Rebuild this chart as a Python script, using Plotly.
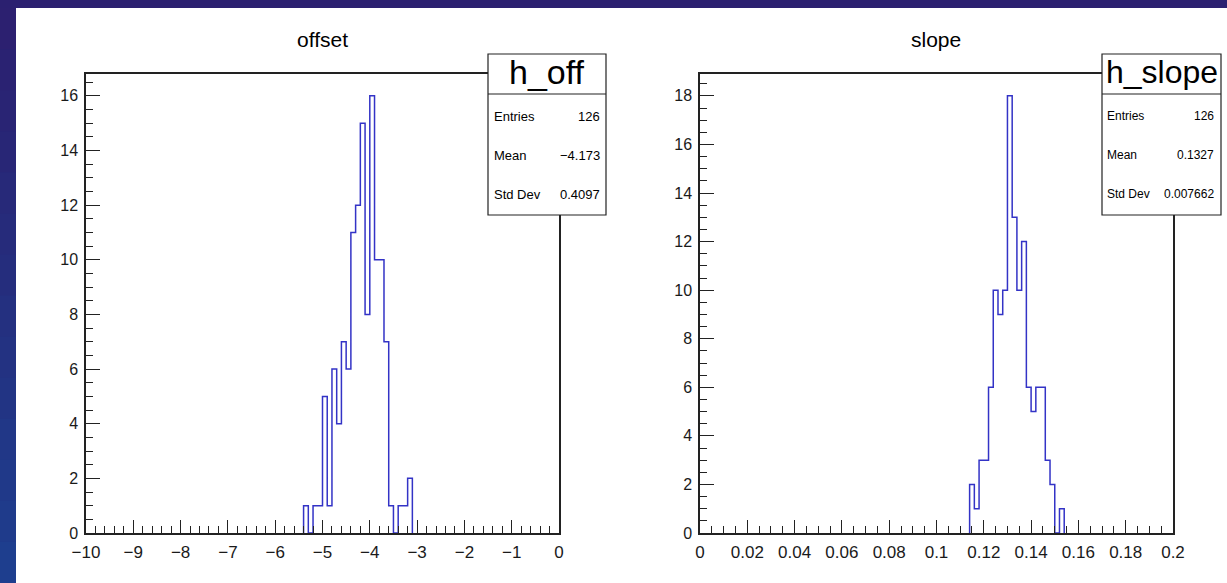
import plotly.graph_objects as go

# ---------------- data ----------------
off_title = "offset"
off_name = "h_off"
off_range = [-10.0, 0.0]
off_nbins = 100
off_first_bin_low = -5.4          # first occupied bin lower edge
off_counts = [1, 0, 1, 1, 5, 1, 6, 4, 7, 6, 11, 12, 15, 8, 16, 10, 10, 7, 1, 0, 1, 1, 2]
off_stats = [("Entries", "126"), ("Mean", "\u22124.173"), ("Std Dev", "0.4097")]

slope_title = "slope"
slope_name = "h_slope"
slope_range = [0.0, 0.2]
slope_nbins = 100
slope_first_bin_low = 0.114
slope_counts = [2, 1, 3, 3, 6, 10, 9, 10, 18, 13, 10, 12, 6, 5, 6, 6, 3, 2, 0, 1]
slope_stats = [("Entries", "126"), ("Mean", "0.1327"), ("Std Dev", "0.007662")]

W, H = 1227, 583
FONT = "Liberation Sans, Arial, Helvetica, sans-serif"
LINE_BLUE = "#3333c6"
AX = "#222222"


def step_outline(rng, nbins, first_low, counts):
    """ROOT-style histogram outline over the occupied bins."""
    width = (rng[1] - rng[0]) / nbins
    start = int(round((first_low - rng[0]) / width))
    edges = [rng[0] + (start + i) * width for i in range(len(counts) + 1)]
    xs, ys = [edges[0]], [0]
    for i, c in enumerate(counts):
        xs += [edges[i], edges[i + 1]]
        ys += [c, c]
    xs.append(edges[-1])
    ys.append(0)
    return xs, ys, max(counts)


def px(x):
    return x / W


def py(y):
    return 1 - y / H


fig = go.Figure()

ox, oy, omax = step_outline(off_range, off_nbins, off_first_bin_low, off_counts)
sx, sy, smax = step_outline(slope_range, slope_nbins, slope_first_bin_low, slope_counts)

fig.add_trace(go.Scatter(x=ox, y=oy, mode="lines", line=dict(color=LINE_BLUE, width=1.5),
                         xaxis="x", yaxis="y", showlegend=False, hoverinfo="skip"))
fig.add_trace(go.Scatter(x=sx, y=sy, mode="lines", line=dict(color=LINE_BLUE, width=1.5),
                         xaxis="x2", yaxis="y2", showlegend=False, hoverinfo="skip"))

ydom = [py(533), py(74)]
common_axis = dict(showgrid=False, zeroline=False, showline=True, mirror=True, automargin=False,
                   linecolor=AX, linewidth=1.5, ticks="inside", tickcolor=AX,
                   tickwidth=1.3, layer="above traces")
xfont = dict(family=FONT, size=17, color="#1a1a1a")
yfont = dict(family=FONT, size=16, color="#1a1a1a")

fig.update_layout(
    template="none",
    width=W, height=H,
    margin=dict(l=0, r=0, t=0, b=0, pad=0, autoexpand=False),
    paper_bgcolor="#2b2070",
    plot_bgcolor="white",
    showlegend=False,
    xaxis=dict(domain=[px(86), px(559)], range=off_range, dtick=1, tick0=0, ticklen=13, tickfont=xfont,
               minor=dict(dtick=0.2, tick0=0, ticks="inside", ticklen=7, tickcolor=AX, tickwidth=1.2),
               anchor="y", ticklabelstandoff=3, **common_axis),
    yaxis=dict(domain=ydom, range=[0, omax * 1.05], dtick=2, tick0=0, ticklen=14, tickfont=yfont,
               minor=dict(dtick=0.5, tick0=0, ticks="inside", ticklen=7, tickcolor=AX, tickwidth=1.2),
               anchor="x", ticklabelstandoff=3, **common_axis),
    xaxis2=dict(domain=[px(700), px(1173)], range=slope_range, dtick=0.02, tick0=0, ticklen=13, tickfont=xfont,
                minor=dict(dtick=0.005, tick0=0, ticks="inside", ticklen=7, tickcolor=AX, tickwidth=1.2),
                anchor="y2", ticklabelstandoff=3, **common_axis),
    yaxis2=dict(domain=ydom, range=[0, smax * 1.05], dtick=2, tick0=0, ticklen=14, tickfont=yfont,
                minor=dict(dtick=0.5, tick0=0, ticks="inside", ticklen=7, tickcolor=AX, tickwidth=1.2),
                anchor="x2", ticklabelstandoff=3, **common_axis),
)

shapes = []
# white canvas
shapes.append(dict(type="rect", xref="paper", yref="paper", x0=px(16), x1=px(W + 2), y0=py(8), y1=py(H + 2),
                   fillcolor="white", line=dict(width=0), layer="below"))
# left strip gradient
n = 14
c_top = (44, 32, 112)
c_bot = (30, 62, 142)
for i in range(n):
    t = i / (n - 1)
    c = tuple(int(c_top[k] + (c_bot[k] - c_top[k]) * t) for k in range(3))
    y0 = 8 + i * (H - 8) / n
    y1 = 8 + (i + 1) * (H - 8) / n + 1
    shapes.append(dict(type="rect", xref="paper", yref="paper", x0=px(-2), x1=px(16), y0=py(y0), y1=py(y1),
                       fillcolor="rgb(%d,%d,%d)" % c, line=dict(width=0), layer="below"))

annotations = []


def stats_box(x0, x1, title, stats, lab_x, val_x, tsize, fsize):
    y0, ysep, y1 = 54, 94, 215
    shapes.append(dict(type="rect", xref="paper", yref="paper", x0=px(x0), x1=px(x1), y0=py(y1), y1=py(y0),
                       fillcolor="white", line=dict(color=AX, width=1.2), layer="above"))
    shapes.append(dict(type="line", xref="paper", yref="paper", x0=px(x0), x1=px(x1), y0=py(ysep), y1=py(ysep),
                       line=dict(color=AX, width=1.2), layer="above"))
    annotations.append(dict(xref="paper", yref="paper", x=px((x0 + x1) / 2), y=py(72), text=title,
                            showarrow=False, xanchor="center", yanchor="middle",
                            font=dict(family=FONT, size=tsize, color="black")))
    rows_y = [116, 155, 194]
    for (lab, val), ry in zip(stats, rows_y):
        annotations.append(dict(xref="paper", yref="paper", x=px(lab_x), y=py(ry), text=lab, showarrow=False,
                                xanchor="left", yanchor="middle", font=dict(family=FONT, size=fsize, color="black")))
        annotations.append(dict(xref="paper", yref="paper", x=px(val_x), y=py(ry), text=val, showarrow=False,
                                xanchor="right", yanchor="middle", font=dict(family=FONT, size=fsize, color="black")))


stats_box(488, 606, off_name, off_stats, 492, 602, 34, 13)
stats_box(1102, 1221, slope_name, slope_stats, 1105, 1216, 32, 12)

annotations.append(dict(xref="paper", yref="paper", x=px(322.5), y=py(40), text=off_title, showarrow=False,
                        xanchor="center", yanchor="middle", font=dict(family=FONT, size=21, color="black")))
annotations.append(dict(xref="paper", yref="paper", x=px(936), y=py(40), text=slope_title, showarrow=False,
                        xanchor="center", yanchor="middle", font=dict(family=FONT, size=21, color="black")))

fig.update_layout(shapes=shapes, annotations=annotations)

fig.write_html("out.html",
               post_script="document.body.style.margin='0';document.body.style.padding='0';"
                           "document.body.style.overflow='hidden';")
